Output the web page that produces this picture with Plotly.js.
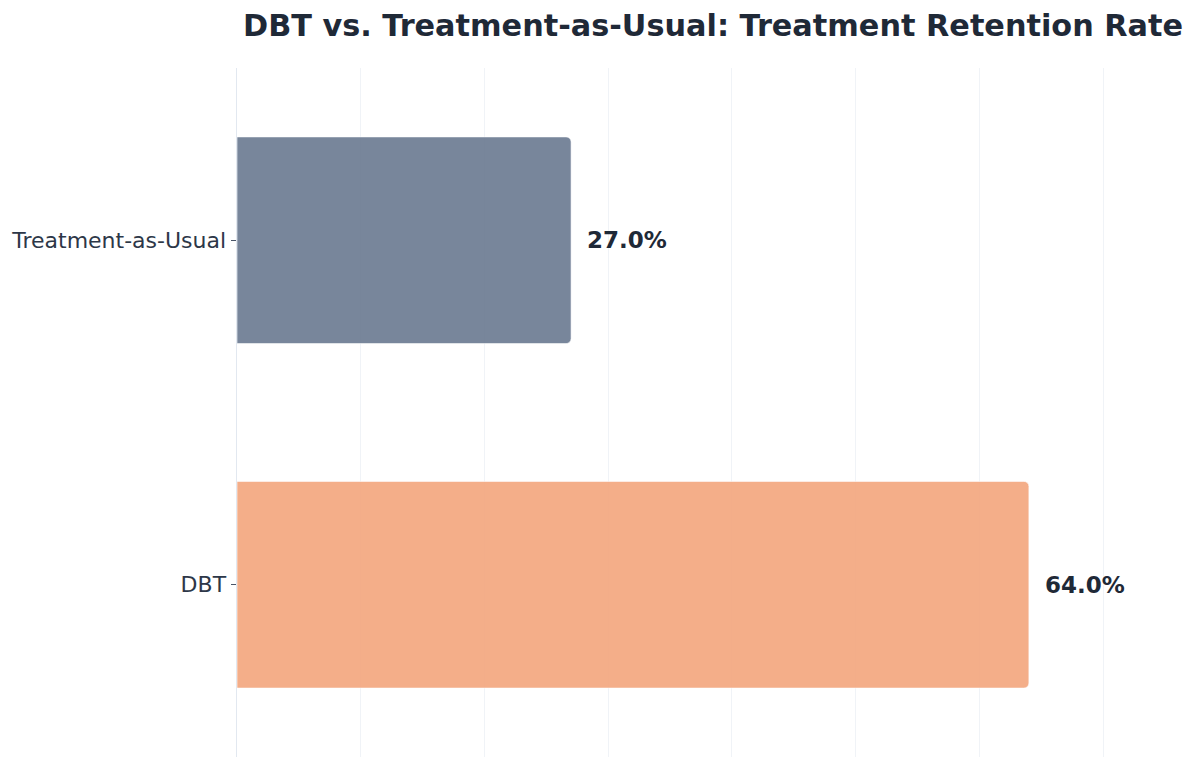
<!DOCTYPE html>
<html>
<head>
<meta charset="utf-8">
<script src="https://cdn.plot.ly/plotly-3.0.1.min.js"></script>
<style>
  html, body { margin: 0; padding: 0; background: #fff; }
  #plot { width: 1200px; height: 769px; }
</style>
</head>
<body>
<div id="plot"></div>
<script>
// chart data
let groups = ['DBT', 'Treatment-as-Usual'];
let retention = [64.0, 27.0];
let barColors = ['#F4A881', '#6E7D94'];
let chartTitle = 'DBT vs. Treatment-as-Usual: Treatment Retention Rate';

let labels = retention.map(v => v.toFixed(1) + '%');

let bars = {
    type: 'bar',
    orientation: 'h',
    y: groups,
    x: retention,
    width: 0.6,
    marker: {
        color: barColors,
        opacity: 0.93,
        cornerradius: 5,
        line: {color: 'rgba(255,255,255,0.6)', width: 1}
    },
    hoverinfo: 'skip',
    showlegend: false
};

let notes = groups.map((g, i) => ({
    x: retention[i],
    y: g,
    xref: 'x',
    yref: 'y',
    text: '<b>' + labels[i] + '</b>',
    showarrow: false,
    xanchor: 'left',
    xshift: 14,
    font: {family: 'DejaVu Sans', size: 23, color: '#1F2937'}
}));

let layout = {
    width: 1200,
    height: 769,
    paper_bgcolor: '#ffffff',
    plot_bgcolor: '#ffffff',
    margin: {l: 237, r: 95, t: 68, b: 12},
    title: {
        text: '<b>' + chartTitle + '</b>',
        x: 0.2025,
        xanchor: 'left',
        y: 0.967,
        yanchor: 'middle',
        font: {family: 'DejaVu Sans', size: 30.3, color: '#1F2937'}
    },
    xaxis: {
        range: [0, 70.15],
        dtick: 10,
        showticklabels: false,
        showgrid: true,
        gridcolor: 'rgba(226,232,240,0.5)',
        gridwidth: 1,
        zeroline: false,
        showline: false,
        fixedrange: true
    },
    yaxis: {
        showgrid: false,
        showline: true,
        linecolor: '#E2E8F0',
        linewidth: 1.5,
        ticks: 'outside',
        ticklen: 5,
        tickcolor: '#4A5568',
        ticklabelstandoff: 0,
        tickfont: {family: 'DejaVu Sans', size: 22, color: '#2D3748'},
        zeroline: false
    },
    annotations: notes
};

Plotly.newPlot('plot', [bars], layout, {displayModeBar: false, staticPlot: true});
</script>
</body>
</html>
